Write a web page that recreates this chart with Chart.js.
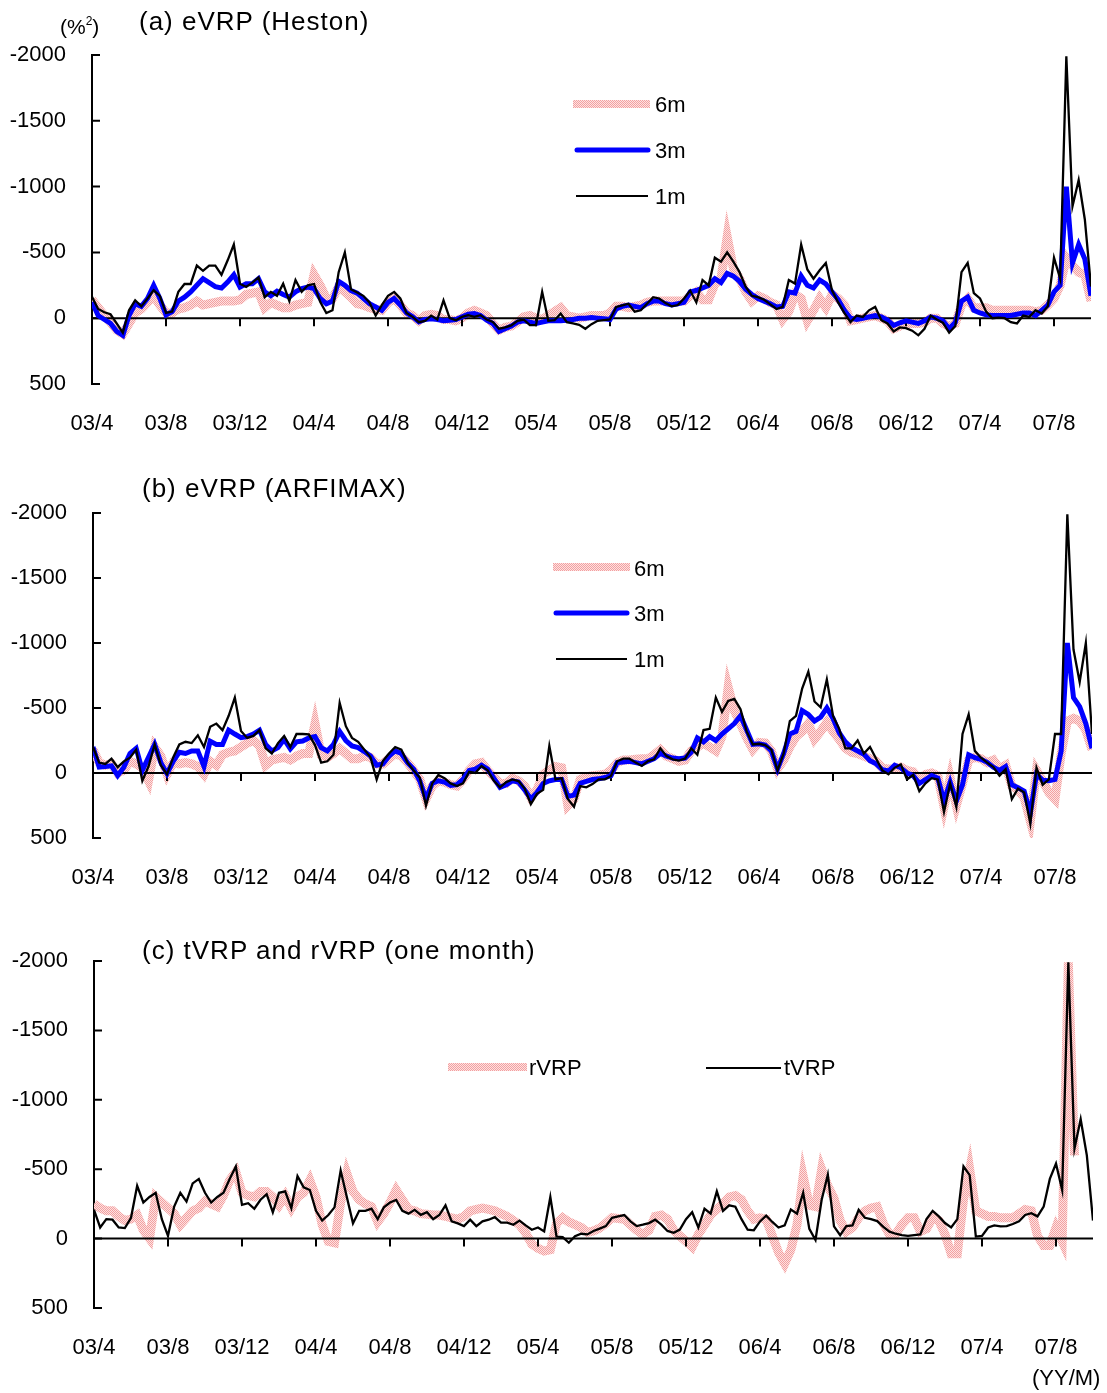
<!DOCTYPE html>
<html>
<head>
<meta charset="utf-8">
<script src="https://cdn.jsdelivr.net/npm/chart.js@4.4.1/dist/chart.umd.min.js"></script>
<style>
  body { margin:0; background:#fff; width:1107px; height:1393px; position:relative; overflow:hidden;
         font-family:"Liberation Sans", Arial, sans-serif; color:#000; }
  canvas { position:absolute; left:0; }
  .t { position:absolute; white-space:nowrap; line-height:1; }
  .title { font-size:26px; letter-spacing:1px; }
  .leg { font-size:22px; }
</style>
</head>
<body>
<canvas id="pa" width="1107" height="450" style="top:0px"></canvas>
<canvas id="pb" width="1107" height="450" style="top:460px"></canvas>
<canvas id="pc" width="1107" height="460" style="top:920px"></canvas>

<div class="t" style="left:60px;top:15px;font-size:21px;">(%<sup style="font-size:12px;vertical-align:9px;">2</sup>)</div>
<div class="t title" style="left:139px;top:8px;">(a) eVRP (Heston)</div>
<div class="t title" style="left:142px;top:475px;">(b) eVRP (ARFIMAX)</div>
<div class="t title" style="left:142px;top:937px;">(c) tVRP and rVRP (one month)</div>
<div class="t leg" style="left:655px;top:94px;">6m</div>
<div class="t leg" style="left:655px;top:140px;">3m</div>
<div class="t leg" style="left:655px;top:186px;">1m</div>
<div class="t leg" style="left:634px;top:558px;">6m</div>
<div class="t leg" style="left:634px;top:603px;">3m</div>
<div class="t leg" style="left:634px;top:649px;">1m</div>
<div class="t leg" style="left:529px;top:1057px;">rVRP</div>
<div class="t leg" style="left:784px;top:1057px;">tVRP</div>
<div class="t leg" style="left:1032px;top:1367px;">(YY/M)</div>

<script>
// Observation grid: months elapsed since 2003/4, sampled three times a month
const obsMonth = Array.from({ length: 163 }, (_, i) => i / 3);

// x-axis labels, one every four months
const tickLabels = ['03/4','03/8','03/12','04/4','04/8','04/12','05/4','05/8','05/12','06/4','06/8','06/12','07/4','07/8'];
const monthsPerTick = 4;
const yTickStep = 500;

// (a) eVRP, Heston model (%^2)
const hestonM6 = [-140,-80,-20,30,90,120,40,-40,-70,-120,-170,-100,-40,-40,-70,-80,-100,-130,-100,-110,-120,-130,-130,-130,-140,-180,-190,-200,-80,-120,-100,-80,-80,-100,-110,-120,-330,-250,-150,-150,-240,-200,-160,-110,-100,-80,-70,-60,-120,-150,-100,-40,-20,20,
  -20,-30,-20,10,10,20,0,-40,-60,-40,-20,40,90,70,60,30,-10,-20,0,10,-20,-50,-80,-20,-10,0,-10,-20,-20,-20,-40,-90,-90,-80,-90,-100,-120,-130,-130,-130,-130,-130,-130,-170,-200,-140,-140,-260,-300,-620,-380,-300,-200,-130,
  -170,-150,-120,-100,10,-50,-180,-150,20,-60,-150,-80,-180,-150,-100,20,10,0,-10,-20,0,20,80,60,40,40,40,30,0,0,40,60,40,-100,-150,-80,-80,-80,-60,-60,-60,-60,-60,-60,-60,-50,-60,-100,-150,-250,-460,-400,-350,-330,-130];
const hestonM3 = [-124,-20,10,40,100,130,-20,-110,-90,-150,-250,-150,-25,-50,-130,-160,-200,-250,-300,-270,-240,-230,-275,-330,-237,-262,-262,-300,-200,-170,-205,-180,-160,-200,-225,-237,-225,-150,-110,-130,-280,-250,-210,-190,-150,-110,-85,-60,-120,-150,-100,-40,-10,28,
  10,5,10,20,15,10,-10,-30,-35,-20,15,40,100,80,60,30,20,30,40,30,20,20,20,15,10,0,0,-5,0,5,10,-70,-90,-100,-90,-80,-110,-130,-130,-110,-100,-110,-120,-200,-210,-230,-250,-300,-270,-340,-320,-280,-220,-180,
  -150,-130,-110,-85,-90,-200,-190,-320,-250,-230,-290,-260,-200,-140,-60,0,10,0,-10,-20,-10,15,55,35,20,30,40,20,-10,0,20,80,30,-130,-160,-60,-40,-25,-20,-20,-20,-20,-30,-40,-40,-20,-60,-100,-200,-250,-1000,-420,-560,-450,-170];
const hestonM1 = [-162,-70,-45,-30,40,110,-60,-136,-90,-150,-212,-170,-40,-50,-200,-260,-260,-400,-360,-400,-400,-330,-440,-560,-262,-237,-270,-310,-160,-200,-170,-262,-130,-290,-200,-250,-260,-124,-40,-60,-350,-500,-220,-195,-170,-120,-20,-100,-170,-200,-150,-40,-10,30,
  20,-20,10,-136,0,15,-10,-23,-10,-23,10,28,80,70,55,20,10,53,53,-200,20,15,-35,30,40,50,80,45,20,15,10,-86,-98,-110,-50,-60,-110,-160,-150,-115,-90,-100,-150,-210,-120,-290,-250,-460,-430,-500,-430,-351,-240,-170,
  -160,-140,-105,-70,-86,-290,-263,-560,-370,-300,-364,-420,-212,-120,-40,30,-20,-10,-60,-86,15,40,100,70,75,95,130,80,-20,10,35,110,60,-350,-420,-190,-150,-50,0,-5,0,30,40,-20,-10,-60,-35,-90,-460,-300,-1990,-850,-1050,-750,-240];

// (b) eVRP, ARFIMAX model (%^2)
const arfimaM6 = [-180,-80,-60,-70,0,-20,-90,-70,-40,60,-200,-130,10,-80,-70,-80,-70,-50,10,-90,-60,-140,-160,-170,-200,-230,-250,-210,-60,-100,-110,-120,-100,-130,-150,-150,-380,-140,-120,-150,-190,-150,-110,-110,-130,-120,-70,-70,-110,-150,-130,-80,-20,50,
  200,100,60,70,90,100,50,-20,-70,-80,-20,30,80,80,40,60,100,190,130,10,-20,-50,-40,250,200,50,30,20,15,10,-20,-80,-100,-100,-105,-110,-110,-140,-180,-130,-110,-90,-100,-170,-200,-230,-200,-170,-280,-660,-480,-380,-270,-180,
  -235,-230,-170,-30,-100,-200,-280,-320,-380,-260,-320,-390,-320,-260,-190,-160,-150,-130,-110,-90,-40,-30,-30,-45,-20,-10,50,10,0,20,260,40,250,80,-100,-120,-110,-80,-100,-30,-60,100,130,190,370,-20,60,150,200,-150,-400,-420,-400,-330,-180];
const arfimaM3 = [-200,-45,-50,-55,20,-45,-150,-190,-20,-120,-220,-80,5,-90,-160,-150,-170,-170,-50,-245,-220,-220,-330,-300,-272,-280,-300,-330,-220,-170,-195,-259,-185,-240,-246,-270,-280,-195,-170,-220,-320,-250,-208,-195,-165,-130,-60,-70,-130,-170,-150,-80,-30,62,
  200,80,60,70,95,90,50,-20,-30,-60,-30,40,110,90,60,70,130,200,150,80,60,50,50,180,170,80,65,50,45,35,20,-80,-85,-90,-80,-70,-90,-110,-150,-130,-115,-110,-115,-160,-270,-240,-280,-250,-300,-340,-380,-440,-330,-220,
  -225,-215,-170,-30,-150,-300,-320,-480,-450,-400,-430,-500,-420,-310,-240,-195,-169,-145,-95,-70,-25,-15,-60,-40,0,20,80,50,20,40,215,70,215,90,-140,-118,-105,-82,-45,-20,-50,90,113,140,310,10,55,60,50,-169,-1000,-580,-510,-380,-190];
const arfimaM1 = [-200,-80,-70,-110,-45,-90,-118,-180,60,-50,-220,-60,10,-120,-220,-240,-230,-290,-200,-355,-380,-330,-440,-580,-323,-270,-285,-330,-190,-150,-230,-285,-200,-300,-300,-297,-215,-80,-90,-140,-540,-360,-270,-240,-180,-120,50,-92,-150,-200,-180,-80,-20,36,
  250,80,15,40,80,100,80,-10,0,-54,-20,60,110,70,50,62,120,240,160,130,-208,50,40,200,260,100,110,85,49,49,23,-90,-110,-110,-80,-54,-92,-105,-190,-130,-105,-95,-110,-190,-140,-330,-340,-580,-470,-554,-570,-490,-320,-220,
  -225,-215,-180,-20,-150,-400,-440,-650,-780,-550,-505,-720,-440,-340,-190,-190,-250,-150,-200,-110,-20,10,-40,-67,50,15,140,80,40,50,300,80,260,-300,-450,-170,-118,-80,-45,20,-30,200,120,150,390,-40,90,50,-300,-300,-1990,-950,-700,-1000,-300];

// (c) one-month tVRP and rVRP (%^2); rVRP stops one month before the end
const rVRP = [-250,-220,-200,-200,-160,-130,-140,-170,-60,0,-300,-260,-220,-180,-100,-150,-200,-220,-270,-250,-230,-310,-420,-480,-330,-310,-300,-340,-340,-300,-240,-310,-220,-300,-330,-420,-300,-100,20,30,-260,-470,-340,-280,-250,-230,-120,-180,-260,-350,-280,-210,-200,-180,
  -175,-170,-170,-160,-150,-140,-160,-200,-210,-220,-210,-200,-180,-160,-130,-100,-40,40,70,90,80,-110,-150,-120,-100,-80,-45,-55,-75,-110,-150,-145,-140,-100,-60,-30,-60,-160,-170,-140,-60,-20,20,60,-30,-100,-170,-210,-250,-300,-310,-280,-200,-140,
  -150,-140,-20,100,180,80,-100,-450,-240,-230,-500,-380,-290,-130,-50,-80,-150,-200,-220,-230,-110,-30,-30,-100,-150,-150,-50,-70,-150,-130,-30,110,110,-280,-500,-200,-180,-160,-160,-150,-150,-150,-180,-210,-200,-20,50,50,-80,20,-1990,-600,null,null,null];
const tVRP = [-207,-80,-140,-136,-80,-76,-150,-380,-260,-300,-330,-140,-20,-231,-330,-267,-398,-430,-330,-260,-300,-330,-430,-520,-243,-255,-215,-280,-320,-190,-330,-340,-219,-450,-370,-350,-200,-130,-170,-225,-490,-300,-110,-200,-200,-215,-140,-225,-260,-279,-200,-180,-207,-171,
  -190,-140,-170,-240,-124,-110,-90,-136,-90,-124,-136,-155,-115,-115,-100,-130,-95,-64,-80,-52,-300,-15,-10,30,-17,-35,-30,-55,-72,-90,-150,-160,-170,-124,-90,-100,-112,-136,-100,-55,-42,-65,-140,-190,-80,-215,-180,-340,-200,-240,-230,-140,-64,-60,
  -124,-165,-120,-80,-95,-210,-180,-330,-70,10,-280,-460,-88,-25,-90,-95,-207,-150,-140,-126,-85,-50,-35,-25,-20,-25,-30,-140,-200,-160,-112,-80,-140,-520,-457,-15,-20,-80,-95,-88,-90,-105,-124,-170,-183,-160,-230,-430,-540,-350,-1990,-650,-860,-600,-130];

// Dotted pink texture used for the wide 6m / rVRP band
function pinkTexture() {
  const c = document.createElement('canvas');
  c.width = 2; c.height = 2;
  const g = c.getContext('2d');
  g.fillStyle = '#fde2e2'; g.fillRect(0, 0, 2, 2);
  g.fillStyle = '#f3a0a0'; g.fillRect(0, 0, 1, 1); g.fillRect(1, 1, 1, 1);
  return g.createPattern(c, 'repeat');
}
const PINK = pinkTexture();

Chart.defaults.font.family = '"Liberation Sans", Arial, sans-serif';
Chart.defaults.font.size = 22;
Chart.defaults.color = '#000';

// Axis line with inward ticks, zero line with downward month ticks
const axesPlugin = {
  id: 'axesPlugin',
  beforeDatasetsDraw(chart) {
    const { ctx, chartArea: a, scales: { y } } = chart;
    ctx.save();
    ctx.strokeStyle = '#000';
    ctx.lineWidth = 2;
    ctx.beginPath();
    ctx.moveTo(a.left, a.top - 1);
    ctx.lineTo(a.left, a.bottom + 1);
    y.ticks.forEach(t => {
      const py = y.getPixelForValue(t.value);
      ctx.moveTo(a.left, py);
      ctx.lineTo(a.left + 8, py);
    });
    ctx.stroke();
    ctx.restore();
  },
  afterDatasetDraw(chart, args) {
    if (args.index !== 0) return; // drawn right after the band series
    const { ctx, chartArea: a, scales: { x, y } } = chart;
    const y0 = y.getPixelForValue(0);
    ctx.save();
    ctx.strokeStyle = '#000';
    ctx.lineWidth = 2;
    ctx.beginPath();
    ctx.moveTo(a.left, y0);
    ctx.lineTo(a.right, y0);
    x.ticks.forEach(t => {
      if (t.value === 0) return;
      const px = x.getPixelForValue(t.value);
      ctx.moveTo(px, y0);
      ctx.lineTo(px, y0 + 8);
    });
    ctx.stroke();
    ctx.restore();
  }
};

// Legend swatches drawn with each dataset's own stroke style
const swatchPlugin = {
  id: 'swatches',
  afterDraw(chart, args, opts) {
    const { ctx } = chart;
    (opts.items || []).forEach(it => {
      const ds = chart.data.datasets[it.ds];
      ctx.save();
      ctx.strokeStyle = ds.borderColor;
      ctx.lineWidth = it.w || ds.borderWidth;
      ctx.lineCap = it.cap || 'butt';
      ctx.beginPath();
      ctx.moveTo(it.x1, it.y);
      ctx.lineTo(it.x2, it.y);
      ctx.stroke();
      ctx.restore();
    });
  }
};

function band(data) {
  return { data, borderColor: PINK, borderWidth: 9, order: 3 };
}
function blue(data) {
  return { data, borderColor: '#0000ff', borderWidth: 5, order: 2 };
}
function black(data) {
  return { data, borderColor: '#000000', borderWidth: 2.3, order: 1 };
}

function makePanel(id, box, datasets, swatches) {
  const cv = document.getElementById(id);
  new Chart(cv, {
    type: 'line',
    data: { labels: obsMonth, datasets },
    options: {
      responsive: false,
      maintainAspectRatio: false,
      animation: false,
      devicePixelRatio: 1,
      layout: { padding: { top: box.top, right: cv.width - box.right, left: 0, bottom: 0 } },
      elements: { point: { radius: 0 }, line: { tension: 0, borderJoinStyle: 'miter' } },
      plugins: { legend: { display: false }, tooltip: { enabled: false }, swatches: { items: swatches } },
      scales: {
        x: {
          type: 'linear', min: 0, max: 54,
          grid: { display: false }, border: { display: false },
          afterBuildTicks: s => { s.ticks = tickLabels.map((_, i) => ({ value: i * monthsPerTick })); },
          afterFit: s => { s.height = cv.height - box.bottom; },
          ticks: { autoSkip: false, maxRotation: 0, padding: 19,
                   callback: v => tickLabels[Math.round(v / monthsPerTick)] }
        },
        y: {
          min: -2000, max: 500, reverse: true,
          grid: { display: false }, border: { display: false },
          afterFit: s => { s.width = box.left; },
          ticks: { stepSize: yTickStep, padding: 18, callback: v => String(v) }
        }
      }
    },
    plugins: [axesPlugin, swatchPlugin]
  });
}

makePanel('pa', { left: 92, right: 1091, top: 55, bottom: 384 },
  [band(hestonM6), blue(hestonM3), black(hestonM1)],
  [{ ds: 0, x1: 573, x2: 650, y: 104, w: 8 },
   { ds: 1, x1: 577, x2: 648, y: 150, w: 5, cap: 'round' },
   { ds: 2, x1: 576, x2: 648, y: 196, w: 2 }]);

makePanel('pb', { left: 93, right: 1092, top: 53, bottom: 378 },
  [band(arfimaM6), blue(arfimaM3), black(arfimaM1)],
  [{ ds: 0, x1: 553, x2: 630, y: 107, w: 8 },
   { ds: 1, x1: 556, x2: 627, y: 153, w: 5, cap: 'round' },
   { ds: 2, x1: 556, x2: 627, y: 199, w: 2 }]);

makePanel('pc', { left: 94, right: 1093, top: 41, bottom: 388 },
  [band(rVRP), black(tVRP)],
  [{ ds: 0, x1: 448, x2: 527, y: 147, w: 8 },
   { ds: 1, x1: 706, x2: 781, y: 148, w: 2 }]);
</script>
</body>
</html>
